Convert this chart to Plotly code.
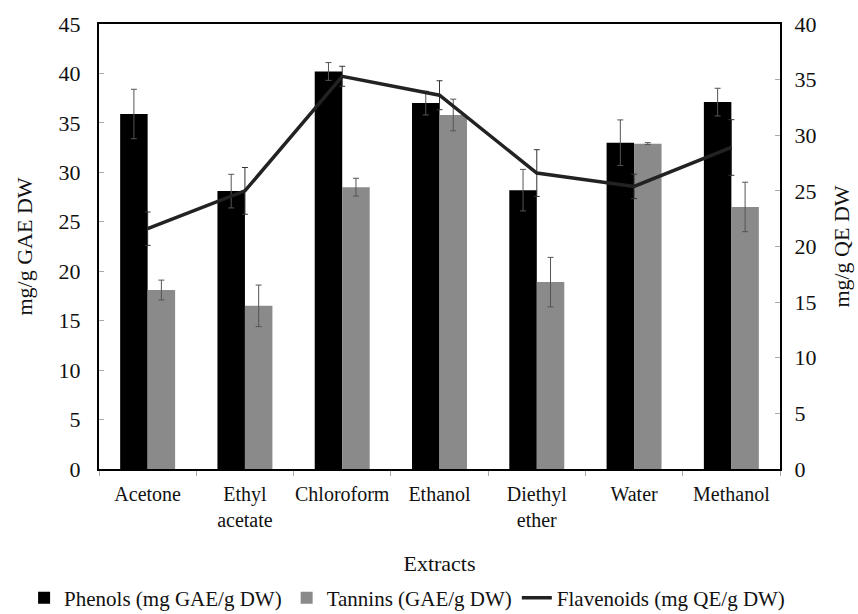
import plotly.graph_objects as go

categories = ["Acetone", "Ethyl<br>acetate", "Chloroform", "Ethanol", "Diethyl<br>ether", "Water", "Methanol"]
phenols = [35.9, 28.1, 40.2, 37.0, 28.2, 33.0, 37.1]
phenols_err = [2.5, 1.7, 0.9, 1.2, 2.1, 2.3, 1.4]
tannins = [18.1, 16.5, 28.5, 35.8, 18.9, 32.9, 26.5]
tannins_err = [1.0, 2.1, 0.9, 1.6, 2.5, 0.1, 2.5]
flavonoids = [21.6, 25.0, 35.3, 33.6, 26.6, 25.4, 28.9]
flavonoids_err = [1.5, 2.1, 0.9, 1.3, 2.1, 1.1, 2.5]

FONT = "Liberation Serif, Times New Roman, serif"
TXT = "#111111"

fig = go.Figure()
fig.add_trace(go.Bar(
    x=categories, y=phenols, name="Phenols (mg GAE/g DW)",
    marker=dict(color="#000000", line=dict(width=0)),
    error_y=dict(type="data", array=phenols_err, color="#555555", thickness=1, width=3),
))
fig.add_trace(go.Bar(
    x=categories, y=tannins, name="Tannins (GAE/g DW)",
    marker=dict(color="#8a8a8a", line=dict(width=0)),
    error_y=dict(type="data", array=tannins_err, color="#555555", thickness=1, width=3),
))
fig.add_trace(go.Scatter(
    x=categories, y=flavonoids, name="Flavenoids (mg QE/g DW)", yaxis="y2",
    mode="lines", line=dict(color="#222222", width=3.5),
    error_y=dict(type="data", array=flavonoids_err, color="#333333", thickness=1, width=3),
))

fig.update_layout(
    width=858, height=614,
    margin=dict(l=99, r=78, t=24, b=145, autoexpand=False),
    paper_bgcolor="white", plot_bgcolor="white",
    barmode="group", bargap=0.435, bargroupgap=0,
    font=dict(family=FONT, size=20, color=TXT),
    showlegend=True,
    legend=dict(orientation="h", x=-0.11, xanchor="left", y=-0.29, yanchor="middle",
                font=dict(family=FONT, size=21, color=TXT),
                itemwidth=30, tracegroupgap=0, traceorder="normal"),
    xaxis=dict(
        showline=True, linecolor="#000000", linewidth=2, mirror=True,
        ticks="outside", tickson="boundaries", ticklen=5, tickcolor="#aaaaaa",
        tickangle=0, automargin=False, ticklabelstandoff=6,
        tickfont=dict(family=FONT, size=20, color=TXT),
        title=dict(text="Extracts", font=dict(family=FONT, size=22, color=TXT), standoff=26),
        showgrid=False,
    ),
    yaxis=dict(
        range=[0, 45], dtick=5, showline=True, linecolor="#000000", linewidth=2,
        ticks="inside", ticklen=5, tickcolor="#aaaaaa", showgrid=False, zeroline=False,
        automargin=False, ticklabelstandoff=12,
        tickfont=dict(family=FONT, size=22, color=TXT),
        title=dict(text="mg/g GAE DW", font=dict(family=FONT, size=22, color=TXT), standoff=20),
    ),
    yaxis2=dict(
        range=[0, 40], dtick=5, overlaying="y", side="right",
        showline=True, linecolor="#000000", linewidth=2, automargin=False,
        ticks="inside", ticklen=5, tickcolor="#aaaaaa", showgrid=False, zeroline=False,
        ticklabelstandoff=8,
        tickfont=dict(family=FONT, size=22, color=TXT),
        title=dict(text="mg/g QE DW", font=dict(family=FONT, size=22, color=TXT), standoff=18),
    ),
)

fig.write_html("out.html")
